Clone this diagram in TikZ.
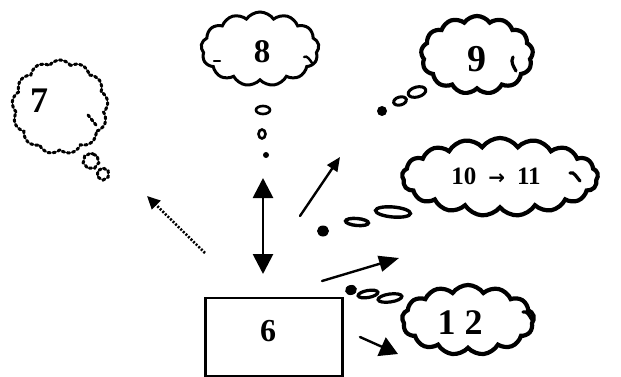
\documentclass[tikz,border=0pt]{standalone}
\usepackage{fontspec}
\setmainfont{Liberation Serif}
\newfontfamily\arrowfont{DejaVu Sans}
\usetikzlibrary{shapes.symbols,shapes.geometric,arrows.meta}

\begin{document}
\begin{tikzpicture}[x=1pt,y=-1pt,
  thought/.style={cloud, cloud puffs=13, cloud puff arc=110, cloud ignores aspect,
    draw, line width=4.2pt, inner sep=0pt, font=\bfseries},
  dotcloud/.style={thought, line width=3pt, dash pattern=on 2.4pt off 2.8pt, line cap=round},
  ring/.style={draw, ellipse, line width=3pt, inner sep=0pt},
  blob/.style={fill, ellipse, inner sep=0pt},
  hook/.style={line width=3.2pt, line cap=round},
  arr/.style={line width=2.4pt, line cap=round},
  lbl/.style={inner sep=0pt, font=\bfseries}
]
\useasboundingbox (0,0) rectangle (621,377);

% central box
\node[draw, line width=2.2pt, minimum width=137pt, minimum height=78pt, inner sep=0pt] (b6) at (274,337) {};
\node[lbl, font=\bfseries\fontsize{32}{32}\selectfont] (t6) at (268,331) {6};

% dotted cloud 7 and its trail
\node[dotcloud, minimum width=96pt, minimum height=94pt] (c7) at (60,107) {};
\node[lbl, font=\bfseries\fontsize{36}{36}\selectfont] (t7) at (39,101) {7};
\node[dotcloud, cloud puffs=7, minimum width=16pt, minimum height=16pt] (c7a) at (91,161) {};
\node[dotcloud, cloud puffs=6, minimum width=12pt, minimum height=12pt] (c7b) at (103,174) {};

% cloud 8 and its trail
\node[thought, line width=3pt, minimum width=118pt, minimum height=74pt] (c8) at (260,49) {};
\node[lbl, font=\bfseries\fontsize{33}{33}\selectfont] (t8) at (262,52) {8};
\node[ring, line width=2.6pt, minimum width=14pt, minimum height=8pt] (r8a) at (263,110) {};
\node[ring, line width=2.6pt, minimum width=7pt, minimum height=9pt] (r8b) at (262,134) {};
\node[blob, minimum width=6pt, minimum height=6pt] (d8) at (266,155) {};

% cloud 9 and its trail
\node[thought, minimum width=112pt, minimum height=78pt] (c9) at (477,55) {};
\node[lbl, font=\bfseries\fontsize{38}{38}\selectfont] (t9) at (477,59) {9};
\node[ring, rotate=15, minimum width=18pt, minimum height=10pt] (r9b) at (417,92) {};
\node[ring, rotate=15, minimum width=13pt, minimum height=8pt] (r9a) at (400,101) {};
\node[blob, minimum width=10pt, minimum height=10pt] (d9) at (382,111) {};

% cloud 10 -> 11 and its trail
\node[thought, cloud puffs=17, minimum width=196pt, minimum height=78pt] (c10) at (500,177) {};
\node[lbl, font=\bfseries\fontsize{25}{25}\selectfont] (t10) at (496,176)
  {10\hspace{12pt}{\arrowfont\fontsize{20}{20}\selectfont →}\hspace{12pt}11};
\node[ring, rotate=-5, line width=3.4pt, minimum width=35pt, minimum height=10pt] (r10b) at (393,212) {};
\node[ring, rotate=-5, line width=3.4pt, minimum width=23pt, minimum height=7pt] (r10a) at (357,222) {};
\node[blob, minimum width=12pt, minimum height=11pt] (d10) at (323,231) {};

% cloud 12 and its trail
\node[thought, minimum width=132pt, minimum height=70pt] (c12) at (468,320) {};
\node[lbl, font=\bfseries\fontsize{36}{36}\selectfont] (t12) at (460,323) {1\hspace{9pt}2};
\node[ring, rotate=8, line width=3.2pt, minimum width=24pt, minimum height=8pt] (r12b) at (390,298) {};
\node[ring, rotate=10, line width=3.2pt, minimum width=20pt, minimum height=7pt] (r12a) at (368,294) {};
\node[blob, rotate=15, minimum width=12pt, minimum height=10pt] (d12) at (351,290) {};

% inner strokes of the puffs
\draw[hook] (c9.center) ++(36,2) .. controls +(-3,5) and +(-2,-4) .. ++(3,14);
\draw[hook] (c10.center) ++(70,-4) .. controls +(4,-2) and +(-3,-3) .. ++(10,8);
\draw[hook] (c12.center) ++(55,-8) .. controls +(4,-2) and +(-2,-3) .. ++(9,8);
\draw[hook, line width=2.4pt] (c8.center) ++(44,8) .. controls +(3,-2) and +(-2,-3) .. ++(8,6);
\draw[hook, line width=2.4pt] (c8.center) ++(-46,12) -- ++(6,0);
\draw[hook, line width=3pt, dash pattern=on 2.4pt off 2.8pt] (c7.center) ++(28,8) -- ++(8,10);

% connectors from the box
\coordinate (v1) at (263,178);
\coordinate (v2) at (263,274);
\coordinate (s7) at (205,253);
\coordinate (e7) at (147,196);
\coordinate (s9) at (300,216);
\coordinate (e9) at (340,157);
\coordinate (s10) at (322,281);
\coordinate (e10) at (399,258);
\coordinate (s12) at (360,337);
\coordinate (e12) at (398,354);

\draw[arr, line width=2.8pt, {Triangle[length=20pt,width=20pt]}-{Triangle[length=20pt,width=20pt]}] (v1) -- (v2);
\draw[arr, line width=2.6pt, dash pattern=on 2pt off 1.6pt, line cap=butt,
  -{Triangle[length=13pt,width=12pt]}] (s7) -- (e7);
\draw[arr, -{Triangle[length=14pt,width=12pt]}] (s9) -- (e9);
\draw[arr, -{Triangle[length=20pt,width=16pt]}] (s10) -- (e10);
\draw[arr, -{Triangle[length=18pt,width=20pt]}] (s12) -- (e12);
\end{tikzpicture}
\end{document}
